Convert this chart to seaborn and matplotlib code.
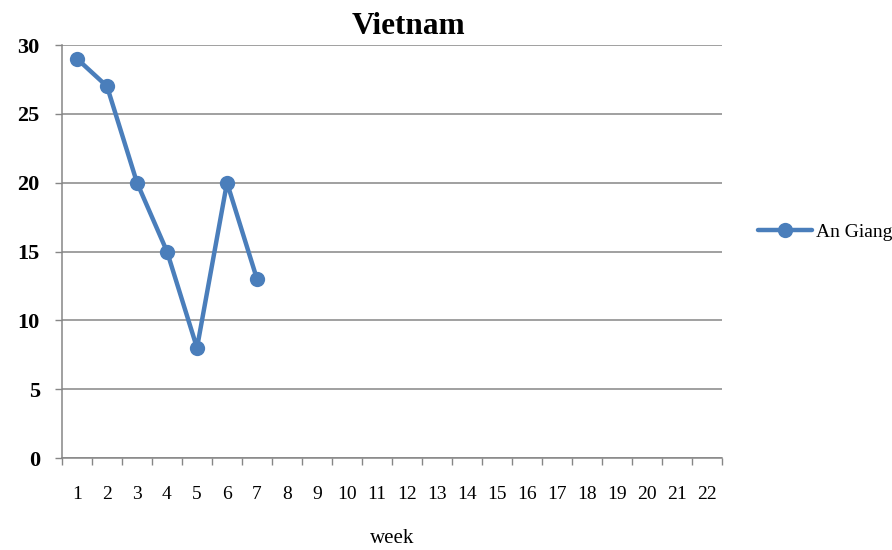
import pandas as pd
import numpy as np
import matplotlib.pyplot as plt
import seaborn as sns

# data
weeks = [1, 2, 3, 4, 5, 6, 7]
cases = [29, 27, 20, 15, 8, 20, 13]
series_name = "An Giang"
week_labels = [str(w) for w in range(1, 23)]

df = pd.DataFrame({"week": weeks, "cases": cases, "province": series_name})

sns.set_style("white")
plt.rcParams["font.family"] = ["Liberation Serif", "DejaVu Serif"]
plt.rcParams["text.color"] = "black"
plt.rcParams["xtick.color"] = "black"
plt.rcParams["ytick.color"] = "black"
plt.rcParams["axes.labelcolor"] = "black"

fig = plt.figure(figsize=(8.92, 5.5), dpi=100)
ax = fig.add_axes([62/892, 1 - 458/550, 660/892, 413/550])

sns.lineplot(data=df, x="week", y="cases", hue="province", palette=["#4A7EBB"],
             marker="o", markersize=11, markeredgewidth=0, linewidth=3.2, ax=ax)

ax.set_xlim(0.5, 22.5)
ax.set_ylim(0, 30)
ax.set_yticks(np.arange(0, 31, 5))
ax.yaxis.grid(True, color="#868686", linewidth=1.1)
ax.xaxis.grid(False)

# category labels centred, tick marks at the boundaries
ax.set_xticks(np.arange(1, 23))
ax.set_xticklabels(week_labels, fontsize=14)
ax.set_xticks(np.arange(0.5, 23, 1), minor=True)
ax.tick_params(axis="x", which="major", length=0, pad=20)
ax.tick_params(axis="x", which="minor", length=5, width=1, color="#868686", direction="out", bottom=True)
ax.tick_params(axis="y", length=5, width=1, color="#868686", labelcolor="black",
               direction="out", left=True, pad=11)
for lab in ax.get_yticklabels():
    lab.set_fontweight("bold")
    lab.set_fontsize(16)

for s in ["top", "right"]:
    ax.spines[s].set_visible(False)
for s in ["left", "bottom"]:
    ax.spines[s].set_color("#868686")
    ax.spines[s].set_linewidth(1.1)

ax.set_xlabel("week", fontsize=15, labelpad=19)
ax.set_ylabel("")
fig.text(408/892, 1 - 27/550, "Vietnam", ha="center", va="center", fontsize=22.5, fontweight="bold")

ax.legend(title=None, frameon=False, loc="center left", bbox_to_anchor=(740/892, 1 - 232/550),
          bbox_transform=fig.transFigure, fontsize=14, handlelength=2.8, handletextpad=0.2)

fig.savefig("out.png", dpi=100)
